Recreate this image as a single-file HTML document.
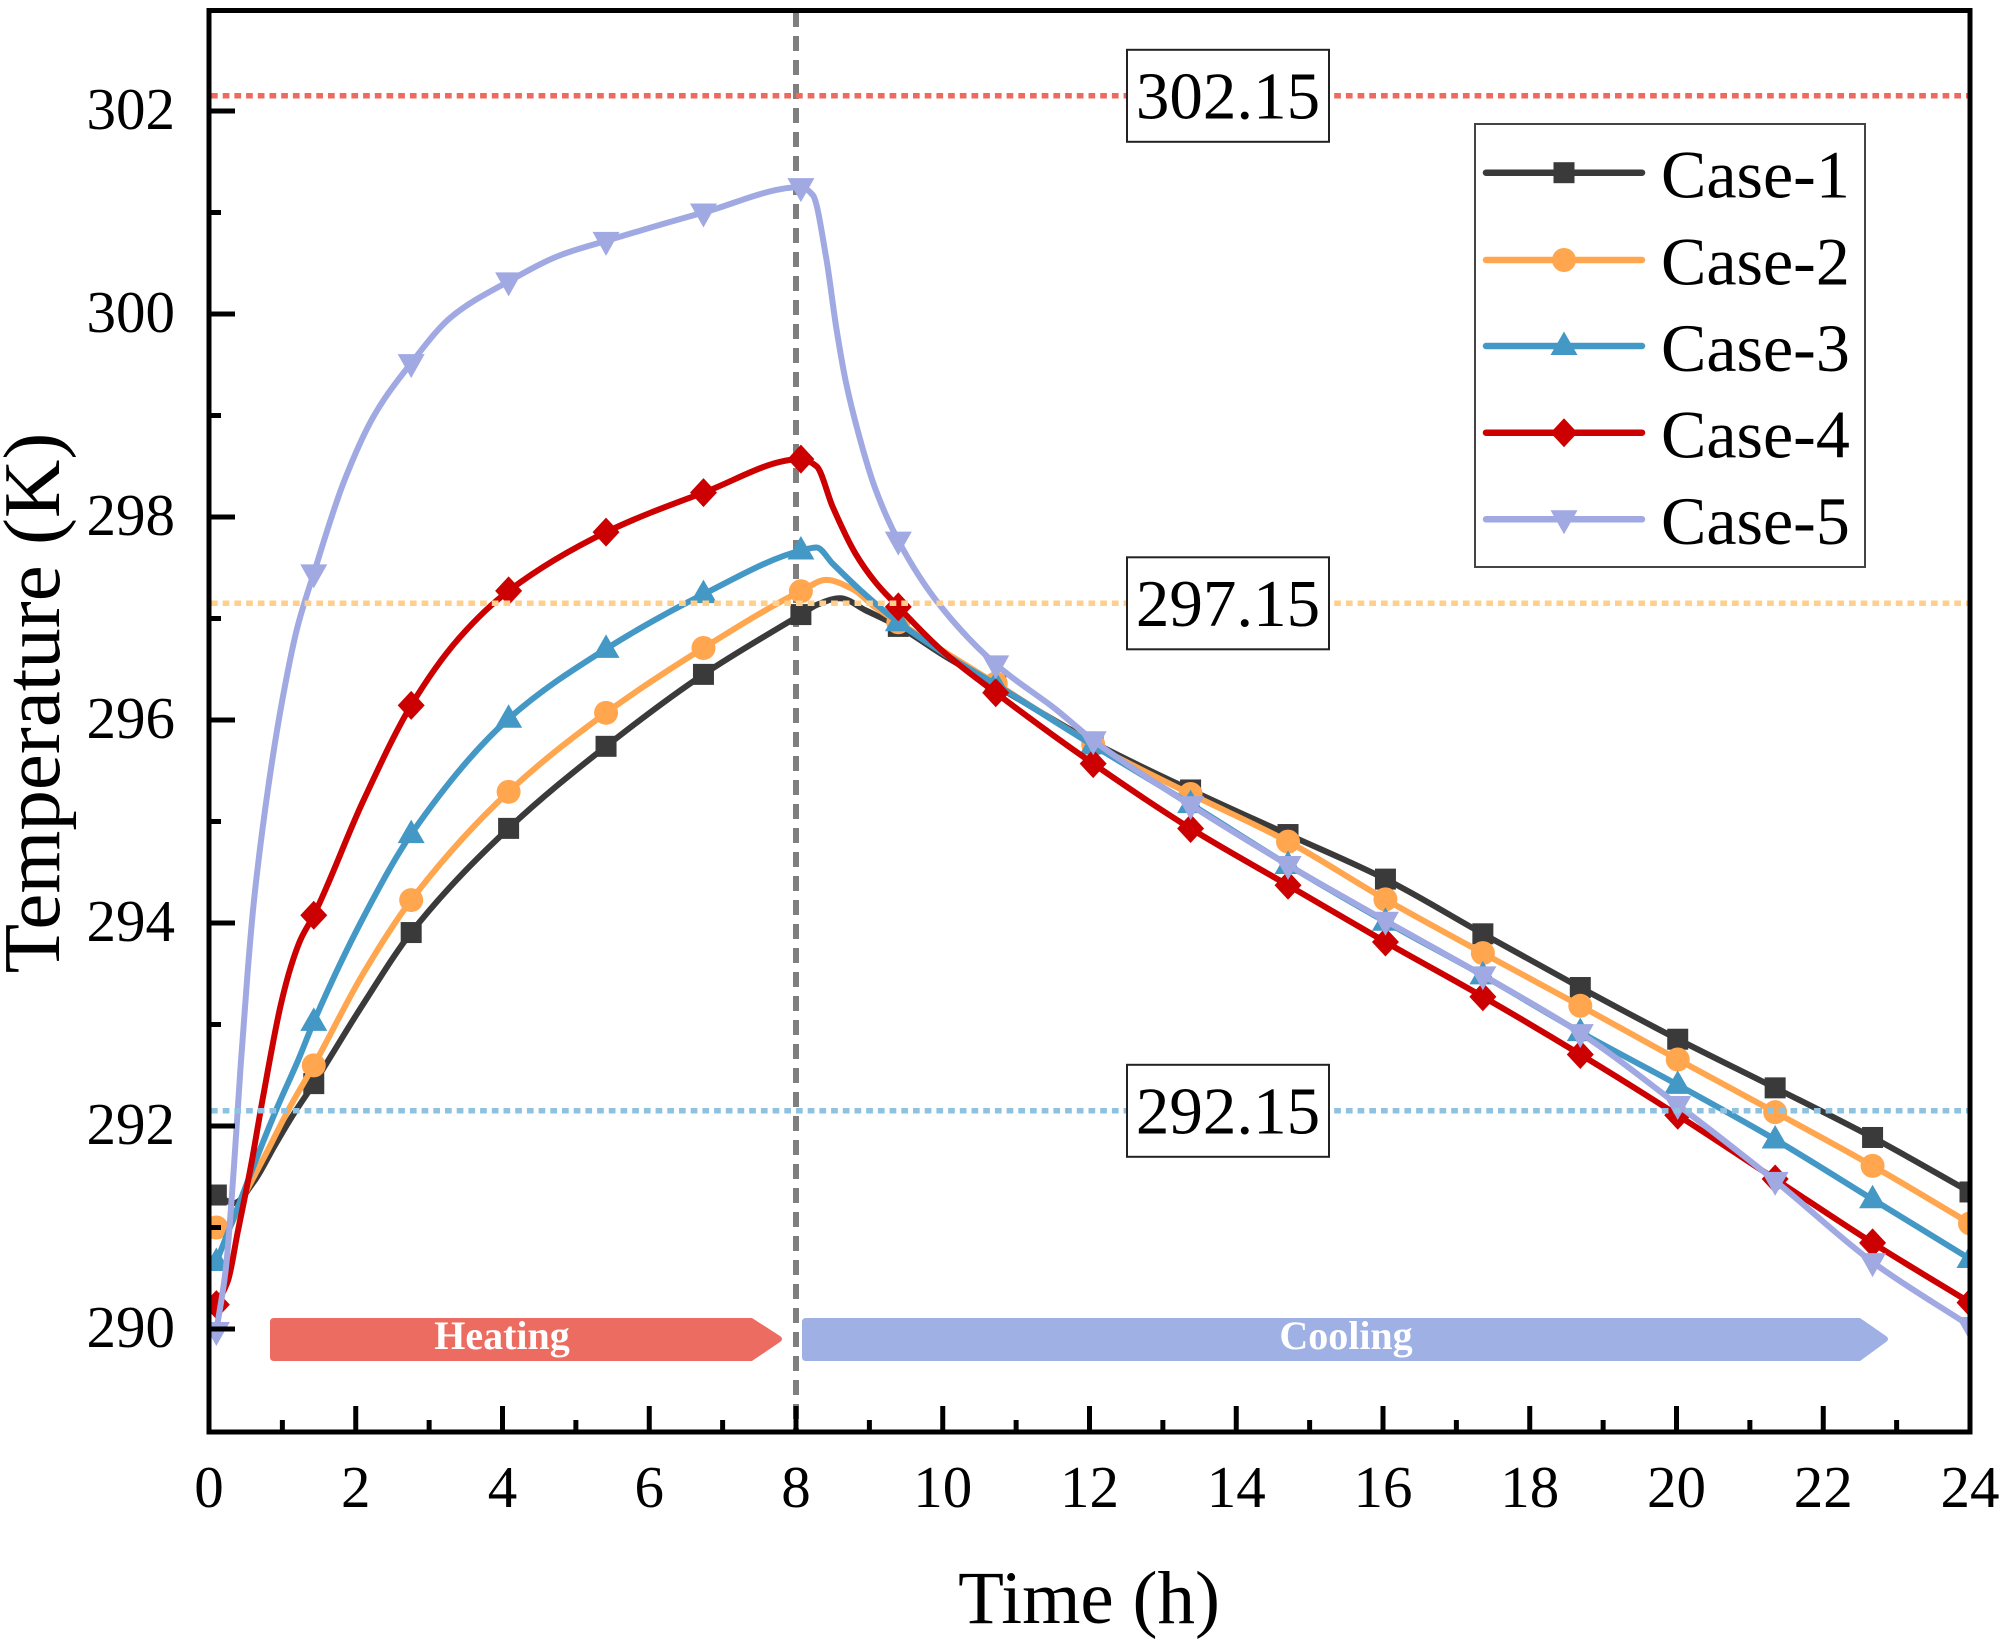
<!DOCTYPE html>
<html>
<head>
<meta charset="utf-8">
<style>
html,body{margin:0;padding:0;background:#fff;}
svg{display:block;}
text{font-family:"Liberation Serif","Times New Roman",serif;fill:#000;}
</style>
</head>
<body>
<svg id="s" width="2008" height="1644" viewBox="0 0 2008 1644" xmlns="http://www.w3.org/2000/svg">
<defs>
<clipPath id="pc"><rect x="209" y="10.5" width="1761" height="1421.5"/></clipPath>
</defs>
<rect x="0" y="0" width="2008" height="1644" fill="#fff"/>

<!-- Heating / Cooling arrows -->
<path d="M274,1318 H752 L780,1336 Q784,1339 780,1342 L752,1361 H274 Q270,1361 270,1357 V1322 Q270,1318 274,1318 Z" fill="#ec6c61"/>
<path d="M806,1318 H1860 L1886,1336 Q1890,1339 1886,1342 L1860,1361 H806 Q802,1361 802,1357 V1322 Q802,1318 806,1318 Z" fill="#9eb0e4"/>
<text x="502" y="1349" font-size="40" font-weight="bold" text-anchor="middle" style="fill:#fff">Heating</text>
<text x="1346" y="1349" font-size="40" font-weight="bold" text-anchor="middle" style="fill:#fff">Cooling</text>

<!-- vertical dashed line -->
<line x1="796" y1="12" x2="796" y2="1430" stroke="#7f7f7f" stroke-width="6" stroke-dasharray="15 9"/>

<g id="data" clip-path="url(#pc)"></g>

<!-- horizontal dotted lines -->
<line x1="211" y1="95.8" x2="1968" y2="95.8" stroke="#ee6a5e" stroke-width="5.5" stroke-dasharray="6.7 5"/>
<line x1="211" y1="603.3" x2="1968" y2="603.3" stroke="#ffcf8c" stroke-width="5.5" stroke-dasharray="6.7 5"/>
<line x1="211" y1="1110.8" x2="1968" y2="1110.8" stroke="#8ec2e0" stroke-width="5.5" stroke-dasharray="6.7 5"/>

<!-- annotation boxes -->
<rect x="1127" y="49.8" width="202" height="92" fill="#fff" stroke="#222" stroke-width="2"/>
<text x="1228" y="118.5" font-size="67" text-anchor="middle">302.15</text>
<rect x="1127" y="557.3" width="202" height="92" fill="#fff" stroke="#222" stroke-width="2"/>
<text x="1228" y="626" font-size="67" text-anchor="middle">297.15</text>
<rect x="1127" y="1064.8" width="202" height="92" fill="#fff" stroke="#222" stroke-width="2"/>
<text x="1228" y="1133.5" font-size="67" text-anchor="middle">292.15</text>

<!-- frame -->
<rect x="209" y="10.5" width="1761" height="1421.5" fill="none" stroke="#000" stroke-width="5"/>
<g id="ticks" stroke="#000" stroke-width="5"></g>

<!-- y tick labels -->
<g font-size="59" text-anchor="end">
<text x="175" y="1347">290</text>
<text x="175" y="1144">292</text>
<text x="175" y="941">294</text>
<text x="175" y="738">296</text>
<text x="175" y="535">298</text>
<text x="175" y="332">300</text>
<text x="175" y="129">302</text>
</g>
<!-- x tick labels -->
<g font-size="59" text-anchor="middle">
<text x="209" y="1507">0</text>
<text x="355.75" y="1507">2</text>
<text x="502.5" y="1507">4</text>
<text x="649.25" y="1507">6</text>
<text x="796" y="1507">8</text>
<text x="942.75" y="1507">10</text>
<text x="1089.5" y="1507">12</text>
<text x="1236.25" y="1507">14</text>
<text x="1383" y="1507">16</text>
<text x="1529.75" y="1507">18</text>
<text x="1676.5" y="1507">20</text>
<text x="1823.25" y="1507">22</text>
<text x="1970" y="1507">24</text>
</g>

<text x="1089" y="1623" font-size="75" text-anchor="middle">Time (h)</text>
<text transform="translate(59,703) rotate(-90)" font-size="81" text-anchor="middle">Temperature (K)</text>

<!-- legend -->
<rect x="1475" y="124" width="390" height="443" fill="#fff" stroke="#444" stroke-width="2"/>
<g id="legend"></g>
<g font-size="68">
<text x="1661" y="197.5">Case-1</text>
<text x="1661" y="284.5">Case-2</text>
<text x="1661" y="371">Case-3</text>
<text x="1661" y="457.5">Case-4</text>
<text x="1661" y="544">Case-5</text>
</g>
</svg>

<script>
(function(){
var NS="http://www.w3.org/2000/svg";
function X(t){return 209+t*73.375;}
function Y(v){return 1329-(v-290)*101.5;}
function el(tag,attrs,parent){var e=document.createElementNS(NS,tag);for(var k in attrs)e.setAttribute(k,attrs[k]);parent.appendChild(e);return e;}

var series=[
{c:'#3a3a3a',m:'sq',d:[[0.1,291.32],[0.34,291.24],[0.61,291.45],[0.89,291.8],[1.12,292.08],[1.43,292.42],[2.1,293.2],[2.76,293.91],[4.08,294.93],[5.41,295.74],[6.74,296.45],[8.07,297.04],[8.3,297.14],[8.6,297.2],[8.95,297.08],[9.4,296.92],[10.05,296.62],[10.72,296.34],[12.05,295.78],[13.38,295.31],[14.71,294.87],[16.04,294.43],[17.37,293.89],[18.7,293.36],[20.03,292.85],[21.36,292.37],[22.69,291.88],[24.0,291.35]]},
{c:'#ffa64f',m:'ci',d:[[0.1,291.0],[0.23,290.98],[0.48,291.32],[0.8,291.76],[1.09,292.17],[1.43,292.6],[2.1,293.5],[2.76,294.23],[4.08,295.29],[5.41,296.07],[6.74,296.71],[8.07,297.27],[8.41,297.38],[8.77,297.29],[9.08,297.11],[9.4,296.96],[10.05,296.66],[10.72,296.36],[12.05,295.76],[13.38,295.27],[14.71,294.8],[16.04,294.23],[17.37,293.7],[18.7,293.18],[20.03,292.65],[21.36,292.13],[22.69,291.6],[24.0,291.04]]},
{c:'#4398c6',m:'tu',d:[[0.1,290.66],[0.35,291.12],[0.68,291.74],[0.94,292.2],[1.21,292.64],[1.43,293.03],[2.1,294.05],[2.76,294.88],[4.08,296.01],[5.41,296.7],[6.74,297.24],[8.07,297.67],[8.28,297.7],[8.5,297.54],[8.86,297.29],[9.4,296.96],[10.05,296.64],[10.72,296.35],[12.05,295.75],[13.38,295.17],[14.71,294.57],[16.04,294.01],[17.37,293.48],[18.7,292.92],[20.03,292.4],[21.36,291.86],[22.69,291.27],[24.0,290.69]]},
{c:'#cc0000',m:'di',d:[[0.1,290.24],[0.26,290.48],[0.39,290.95],[0.57,291.6],[0.73,292.26],[0.98,293.2],[1.12,293.58],[1.25,293.84],[1.43,294.08],[2.1,295.2],[2.76,296.15],[3.4,296.8],[4.08,297.27],[5.41,297.85],[6.74,298.24],[8.07,298.57],[8.28,298.5],[8.5,298.1],[8.81,297.64],[9.08,297.36],[9.4,297.11],[9.98,296.69],[10.72,296.27],[12.05,295.57],[13.38,294.93],[14.71,294.37],[16.04,293.81],[17.37,293.27],[18.7,292.7],[20.03,292.1],[21.36,291.47],[22.69,290.84],[24.0,290.26]]},
{c:'#a0a9e2',m:'td',d:[[0.1,289.98],[0.23,290.6],[0.34,291.6],[0.43,292.58],[0.53,293.55],[0.61,294.2],[0.81,295.35],[1.0,296.2],[1.2,296.9],[1.43,297.45],[1.84,298.35],[2.25,299.0],[2.76,299.52],[3.3,299.97],[4.08,300.32],[4.79,300.58],[5.41,300.72],[6.74,301.0],[8.07,301.25],[8.23,301.17],[8.41,300.56],[8.55,299.86],[8.68,299.33],[8.86,298.8],[9.08,298.28],[9.4,297.76],[9.94,297.15],[10.72,296.55],[11.55,296.1],[12.05,295.8],[13.38,295.16],[14.71,294.57],[16.04,294.02],[17.37,293.48],[18.7,292.91],[20.03,292.2],[21.36,291.45],[22.69,290.65],[24.0,290.03]]}
];

function marker(type,x,y,c,parent){
  if(type==='sq'){el('rect',{x:x-10.5,y:y-10.5,width:21,height:21,fill:c},parent);}
  else if(type==='ci'){el('circle',{cx:x,cy:y,r:12,fill:c},parent);}
  else if(type==='tu'){el('polygon',{points:(x)+','+(y-14.5)+' '+(x-13.5)+','+(y+9)+' '+(x+13.5)+','+(y+9),fill:c},parent);}
  else if(type==='td'){el('polygon',{points:(x-13.5)+','+(y-9)+' '+(x+13.5)+','+(y-9)+' '+(x)+','+(y+15),fill:c},parent);}
  else if(type==='di'){el('polygon',{points:(x)+','+(y-14.5)+' '+(x+13.5)+','+(y)+' '+(x)+','+(y+14.5)+' '+(x-13.5)+','+(y),fill:c},parent);}
}

var g=document.getElementById('data');
series.forEach(function(s){
  var xs=s.d.map(function(p){return X(p[0]);}), ys=s.d.map(function(p){return Y(p[1]);});
  var n=xs.length,h=[],d=[],m=[],i;
  for(i=0;i<n-1;i++){h[i]=xs[i+1]-xs[i];d[i]=(ys[i+1]-ys[i])/h[i];}
  m[0]=d[0];m[n-1]=d[n-2];
  for(i=1;i<n-1;i++){
    if(d[i-1]*d[i]<=0)m[i]=0;
    else{var w1=2*h[i]+h[i-1],w2=h[i]+2*h[i-1];m[i]=(w1+w2)/(w1/d[i-1]+w2/d[i]);}
  }
  var p='M'+xs[0].toFixed(2)+','+ys[0].toFixed(2);
  for(i=0;i<n-1;i++){
    p+=' C'+(xs[i]+h[i]/3).toFixed(2)+','+(ys[i]+m[i]*h[i]/3).toFixed(2)+' '+(xs[i+1]-h[i]/3).toFixed(2)+','+(ys[i+1]-m[i+1]*h[i]/3).toFixed(2)+' '+xs[i+1].toFixed(2)+','+ys[i+1].toFixed(2);
  }
  el('path',{d:p,fill:'none',stroke:s.c,'stroke-width':6,'stroke-linejoin':'round','stroke-linecap':'round'},g);
  function ev(xq){
    var k=0;while(k<n-2&&xq>xs[k+1])k++;
    var t=(xq-xs[k])/h[k];if(t<0)t=0;if(t>1)t=1;
    var t2=t*t,t3=t2*t;
    return (2*t3-3*t2+1)*ys[k]+(t3-2*t2+t)*h[k]*m[k]+(-2*t3+3*t2)*ys[k+1]+(t3-t2)*h[k]*m[k+1];
  }
  for(var k=0;k<19;k++){
    var tt=0.1+k*(23.9/18);
    var xx=X(tt);
    marker(s.m,xx,ev(xx),s.c,g);
  }
});

// ticks
var tg=document.getElementById('ticks');
for(var v=290;v<=302;v++){
  var yy=Y(v);
  var len=(v%2===0)?26:12;
  el('line',{x1:209,y1:yy,x2:209+len,y2:yy},tg);
}
for(var t=1;t<=23;t++){
  var xx=X(t);
  var len2=(t%2===0)?26:12;
  el('line',{x1:xx,y1:1432,x2:xx,y2:1432-len2},tg);
}

// legend
var lg=document.getElementById('legend');
var rows=[172.7,260,346,432.7,519.3];
series.forEach(function(s,i){
  el('line',{x1:1486,y1:rows[i],x2:1642,y2:rows[i],stroke:s.c,'stroke-width':6.5,'stroke-linecap':'round'},lg);
  marker(s.m,1564,rows[i],s.c,lg);
});
})();
</script>
</body>
</html>
